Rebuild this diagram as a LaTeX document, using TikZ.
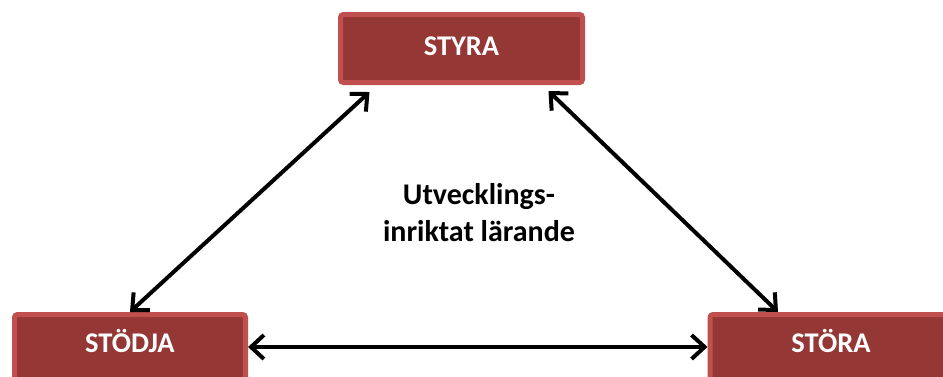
\documentclass[tikz,border=0pt]{standalone}
\usepackage{fontspec}
\setmainfont{Carlito}
\usetikzlibrary{positioning}
\usetikzlibrary{arrows.meta}
\definecolor{boxfill}{HTML}{953735}
\definecolor{boxline}{HTML}{C0504D}

\begin{document}
\begin{tikzpicture}[
  x=1pt, y=-1pt,
  box/.style = {draw=boxline, line width=5pt, fill=boxfill, rounded corners=3pt,
    text=white, font=\fontsize{28.5}{34}\selectfont\bfseries,
    text height=18pt, text depth=5pt, minimum width=242pt, minimum height=68pt},
  link/.style = {line width=4pt, <->},
  >={Straight Barb[length=13pt,width=24pt]}
]

  \useasboundingbox (0,0) rectangle (943,376);

  \node[box] (styra) at (461.5,48.5) {STYRA};
  \node[box, minimum width=231pt, text depth=11pt] (stodja) at (130,348.5) {STÖDJA};
  \node[box, text depth=11pt] (stora) at (831,348.5) {STÖRA};

  \node[font=\fontsize{30}{37}\selectfont\bfseries, align=center] (mitt) at (479,213)
    {Utvecklings-\\inriktat lärande};

  % pilar mellan rutorna
  \draw[link] ([xshift=-92pt,yshift=-7pt]styra.south) -- (stodja.north);
  \draw[link] ([xshift=87pt,yshift=-6pt]styra.south) -- ([xshift=-53pt]stora.north);
  \draw[link] ([yshift=1.5pt]stodja.east) -- ([yshift=1.5pt]stora.west);

\end{tikzpicture}
\end{document}
